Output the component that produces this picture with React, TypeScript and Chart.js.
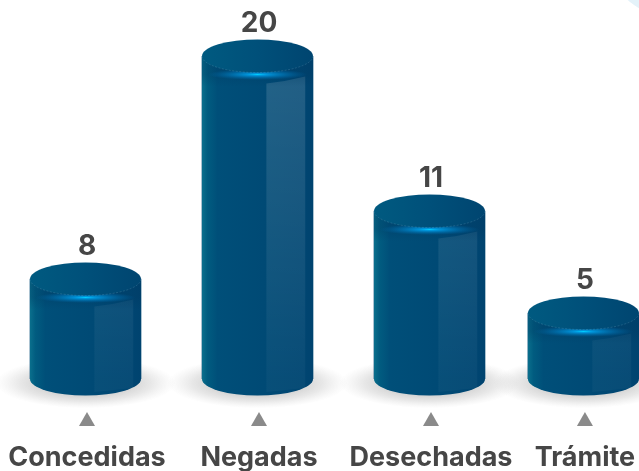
import React, { useEffect, useRef } from "react";
import { Chart, registerables, LinearScale } from "chart.js";

const categories = ["Concedidas", "Negadas", "Desechadas", "Trámite"];
const values = [8, 20, 11, 5];
const slots = [0, 1, 2, 2.895];
// The source infographic is not drawn to a linear scale: each value sits at this share of the axis.
const axisValues = [0, 5, 8, 11, 20];
const axisShares = [0, 0.2043, 0.3096, 0.5201, 1];

class PiecewiseScale extends LinearScale {
  static id = "piecewise";
  static defaults = LinearScale.defaults;
  getPixelForValue(v: number) {
    let share = 1;
    for (let i = 1; i < axisValues.length; i++) {
      if (v <= axisValues[i]) {
        const t = (v - axisValues[i - 1]) / (axisValues[i] - axisValues[i - 1]);
        share = axisShares[i - 1] + t * (axisShares[i] - axisShares[i - 1]);
        break;
      }
    }
    return (this as any).getPixelForDecimal(share);
  }
}

Chart.register(...registerables, PiecewiseScale as any);

const RY = 16.5;
const FONT = "Inter, 'Noto Sans', sans-serif";

const decor = {
  id: "decor",
  beforeDraw(chart: any) {
    const { ctx, width } = chart;
    ctx.save();
    ctx.fillStyle = "#e4f2f9";
    ctx.beginPath();
    ctx.ellipse(width + 72, -62, 115, 90, 0, 0, Math.PI * 2);
    ctx.fill();
    ctx.restore();
  },
  beforeDatasetsDraw(chart: any) {
    const { ctx } = chart;
    ctx.save();
    chart.getDatasetMeta(0).data.forEach((b: any) => {
      ctx.save();
      ctx.translate(b.x, b.base + 4);
      ctx.scale(1, 0.28);
      const g = ctx.createRadialGradient(0, 0, 20, 0, 0, 90);
      g.addColorStop(0, "rgba(70,70,70,0.4)");
      g.addColorStop(0.65, "rgba(110,110,110,0.16)");
      g.addColorStop(1, "rgba(150,150,150,0)");
      ctx.fillStyle = g;
      ctx.beginPath();
      ctx.arc(0, 0, 90, 0, Math.PI * 2);
      ctx.fill();
      ctx.restore();
    });
    ctx.restore();
  },
  afterDatasetsDraw(chart: any) {
    const { ctx, scales } = chart;
    const meta = chart.getDatasetMeta(0);
    ctx.save();
    meta.data.forEach((b: any, i: number) => {
      const rx = b.width / 2;
      const l = b.x - rx;
      const r = b.x + rx;
      const top = b.y;
      const base = b.base;
      // body
      const body = ctx.createLinearGradient(l, 0, r, 0);
      body.addColorStop(0, "#0a6f8c");
      body.addColorStop(0.05, "#015c80");
      body.addColorStop(0.14, "#004f79");
      body.addColorStop(0.55, "#004a75");
      body.addColorStop(0.9, "#004672");
      body.addColorStop(1, "#00436f");
      ctx.fillStyle = body;
      ctx.beginPath();
      ctx.moveTo(l, top);
      ctx.lineTo(l, base);
      ctx.ellipse(b.x, base, rx, RY, 0, Math.PI, 0, true);
      ctx.lineTo(r, top);
      ctx.closePath();
      ctx.fill();
      // sheen panel
      const pl = l + b.width * 0.58;
      const pr = l + b.width * 0.93;
      const sheen = ctx.createLinearGradient(0, 40, 0, base);
      sheen.addColorStop(0, "rgba(255,255,255,0.15)");
      sheen.addColorStop(1, "rgba(255,255,255,0.03)");
      ctx.fillStyle = sheen;
      ctx.beginPath();
      ctx.moveTo(pl, top + RY + 11);
      ctx.quadraticCurveTo((pl + pr) / 2, top + RY + 9, pr, top + RY + 4);
      ctx.lineTo(pr, base + 9);
      ctx.quadraticCurveTo((pl + pr) / 2, base + 11, pl, base + 13);
      ctx.closePath();
      ctx.fill();
      // band under the lid
      const band = ctx.createLinearGradient(0, top, 0, top + RY + 14);
      band.addColorStop(0.6, "rgba(0,55,95,0.3)");
      band.addColorStop(1, "rgba(0,55,95,0)");
      ctx.fillStyle = band;
      ctx.fillRect(l, top, b.width, RY + 14);
      // glow
      ctx.save();
      ctx.translate(b.x, top + RY + 2);
      ctx.scale(1, 0.11);
      const glow = ctx.createRadialGradient(0, 0, 0, 0, 0, 50);
      glow.addColorStop(0, "rgba(0,205,255,1)");
      glow.addColorStop(0.2, "rgba(0,160,235,0.85)");
      glow.addColorStop(1, "rgba(0,110,180,0)");
      ctx.fillStyle = glow;
      ctx.beginPath();
      ctx.arc(0, 0, 50, 0, Math.PI * 2);
      ctx.fill();
      ctx.restore();
      // lid
      const lid = ctx.createLinearGradient(l, 0, r, 0);
      lid.addColorStop(0, "#005a80");
      lid.addColorStop(0.5, "#00507a");
      lid.addColorStop(1, "#004570");
      ctx.fillStyle = lid;
      ctx.beginPath();
      ctx.ellipse(b.x, top, rx, RY, 0, 0, Math.PI * 2);
      ctx.fill();
      ctx.strokeStyle = "rgba(190,225,240,0.3)";
      ctx.lineWidth = 0.5;
      ctx.setLineDash([2, 1.5]);
      ctx.beginPath();
      ctx.ellipse(b.x, top, rx, RY, 0, 0, Math.PI);
      ctx.stroke();
      ctx.setLineDash([]);
      // value
      ctx.fillStyle = "#464646";
      ctx.font = `700 28px ${FONT}`;
      ctx.textAlign = "center";
      ctx.textBaseline = "middle";
      ctx.fillText(String(values[i]), b.x + 1.5, top - 32.5);
      // marker
      const tx = scales.x.getPixelForValue(slots[i]) + 1.5;
      ctx.fillStyle = "#8a8a8a";
      ctx.beginPath();
      ctx.moveTo(tx, 412);
      ctx.lineTo(tx + 8, 426);
      ctx.lineTo(tx - 8, 426);
      ctx.closePath();
      ctx.fill();
    });
    ctx.restore();
  },
};

export default function App() {
  const ref = useRef<HTMLCanvasElement>(null);
  useEffect(() => {
    document.body.style.margin = "0";
    const chart = new Chart(ref.current!, {
      type: "bar",
      data: {
        datasets: [
          {
            data: values.map((v, i) => ({ x: slots[i], y: v })),
            backgroundColor: "#004a75",
            borderWidth: 0,
            barThickness: 111,
          },
        ],
      },
      options: {
        animation: false,
        responsive: false,
        layout: { padding: { top: 56, left: 0, right: 0, bottom: 0 } },
        plugins: { legend: { display: false }, tooltip: { enabled: false } },
        scales: {
          x: {
            type: "linear",
            offset: false,
            min: -85.5 / 172,
            max: (639 - 85.5) / 172,
            grid: { display: false, drawTicks: false, offset: false },
            border: { display: false },
            afterBuildTicks(axis: any) {
              axis.ticks = slots.map((value) => ({ value }));
            },
            afterFit(axis: any) {
              axis.height = 92;
              axis.paddingLeft = 0;
              axis.paddingRight = 0;
            },
            ticks: {
              autoSkip: false,
              maxRotation: 0,
              minRotation: 0,
              padding: 64.5,
              labelOffset: 1.5,
              color: "#464646",
              font: { family: FONT, size: 27, weight: "700", lineHeight: 1.07 },
              callback: (_v: any, i: number) => categories[i],
            },
          },
          y: {
            type: "piecewise",
            min: 0,
            max: 20,
            display: false,
          },
        },
      } as any,
      plugins: [decor],
    } as any);
    return () => chart.destroy();
  }, []);
  return <canvas ref={ref} width={639} height={471} style={{ display: "block" }} />;
}
